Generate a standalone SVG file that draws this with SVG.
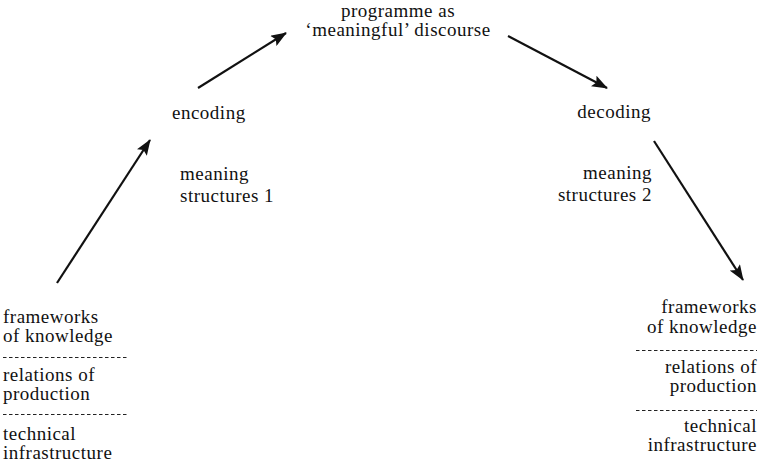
<svg xmlns="http://www.w3.org/2000/svg" width="762" height="464" viewBox="0 0 762 464">
<style>
text{font-family:"Liberation Serif","Times New Roman",serif;font-size:19px;letter-spacing:0.5px;fill:#111}
.r{text-anchor:end}
.m{text-anchor:middle}
.dash{stroke:#222;stroke-width:1;stroke-dasharray:3.5 2.5}
.arr{stroke:#111;stroke-width:2.2;fill:none;marker-end:url(#ah)}
</style>
<defs>
<marker id="ah" viewBox="0 0 16 12" refX="15" refY="6" markerWidth="16" markerHeight="12" markerUnits="userSpaceOnUse" orient="auto">
<path d="M0,0 L16,6 L0,12 L3,6 Z" fill="#111"/>
</marker>
</defs>
<rect width="762" height="464" fill="#fff"/>
<g id="connectors">
<line class="arr" x1="57" y1="283" x2="150" y2="140"/>
<line class="arr" x1="198" y1="88" x2="286" y2="33"/>
<line class="arr" x1="508" y1="36" x2="607" y2="88"/>
<line class="arr" x1="654" y1="141" x2="743" y2="280"/>
</g>
<g id="programme">
<text class="m" x="398" y="17">programme as</text>
<text class="m" x="398" y="36">‘meaningful’ discourse</text>
</g>
<g id="encoding">
<text x="172" y="119">encoding</text>
</g>
<g id="meaning1">
<text x="180" y="180">meaning</text>
<text x="180" y="202">structures 1</text>
</g>
<g id="decoding">
<text class="r" x="651" y="118">decoding</text>
</g>
<g id="meaning2">
<text class="r" x="652" y="179">meaning</text>
<text class="r" x="652" y="201">structures 2</text>
</g>
<g id="left-structures">
<text x="3" y="323">frameworks</text>
<text x="3" y="342">of knowledge</text>
<line class="dash" x1="3" y1="357.5" x2="127" y2="357.5"/>
<text x="3" y="381">relations of</text>
<text x="3" y="400">production</text>
<line class="dash" x1="3" y1="414.5" x2="127" y2="414.5"/>
<text x="3" y="440">technical</text>
<text x="3" y="459">infrastructure</text>
</g>
<g id="right-structures">
<text class="r" x="757" y="313">frameworks</text>
<text class="r" x="757" y="333">of knowledge</text>
<line class="dash" x1="636" y1="350.5" x2="757" y2="350.5"/>
<text class="r" x="757" y="373">relations of</text>
<text class="r" x="757" y="392">production</text>
<line class="dash" x1="636" y1="410.5" x2="757" y2="410.5"/>
<text class="r" x="757" y="432">technical</text>
<text class="r" x="757" y="451">infrastructure</text>
</g>
</svg>
